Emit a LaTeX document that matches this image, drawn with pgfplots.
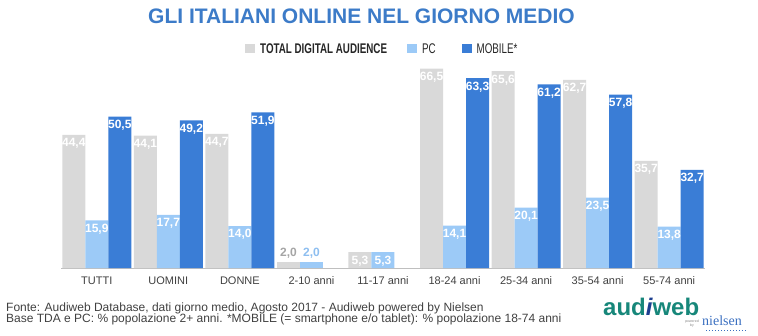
\documentclass[border=0pt]{standalone}
\usepackage{pgfplots}
\pgfplotsset{compat=1.18}
\usepackage{fontspec}
\setmainfont{Liberation Sans}
\newfontfamily\narrowfont[FakeStretch=0.7]{Liberation Sans}
\newfontfamily\seriffont{Liberation Serif}
\definecolor{tdagray}{HTML}{D9D9D9}
\definecolor{pcblue}{HTML}{9CCAF7}
\definecolor{mobblue}{HTML}{3A7DD6}
\definecolor{titleblue}{HTML}{3C7BC8}
\definecolor{axisgray}{HTML}{BFBFBF}
\definecolor{tickc}{HTML}{404040}
\definecolor{legtext}{HTML}{262626}
\definecolor{smallgray}{HTML}{A5A5A5}
\definecolor{smallblue}{HTML}{8DBEF0}
\definecolor{footc}{HTML}{404040}
\definecolor{logoteal}{HTML}{17877A}
\definecolor{logoblue}{HTML}{1D3F8F}
\definecolor{nielblue}{HTML}{3A6FC0}
\newcommand{\vfont}{\bfseries\fontsize{12}{14}\selectfont}
\begin{document}
\begin{tikzpicture}[x=1pt,y=1pt]
\useasboundingbox (0,0) rectangle (758,335);
\begin{axis}[
  at={(61pt,67pt)}, anchor=south west,
  scale only axis, width=644pt, height=210pt,
  xmin=-0.5, xmax=8.5, ymin=0, ymax=70,
  axis x line*=bottom, axis y line=none,
  x axis line style={draw=axisgray, line width=0.8pt},
  xtick={0,...,8},
  xticklabels={TUTTI,UOMINI,DONNE,2-10 anni,11-17 anni,18-24 anni,25-34 anni,35-54 anni,55-74 anni},
  major tick length=0pt,
  xticklabel style={font=\fontsize{11}{13}\selectfont, text=tickc, anchor=base, yshift=-16.5pt},
  ytick=\empty,
  clip=false,
  /pgf/number format/.cd, fixed, fixed zerofill, precision=1, use comma, assume math mode=true,
  /pgfplots/.cd,
  legend style={at={(axis description cs:0.2857,1.043)}, anchor=west, draw=none, fill=none,
    inner sep=0pt, font=\narrowfont\fontsize{14}{16}\selectfont, text=legtext,
    /tikz/every odd column/.append style={column sep=3pt},
    /tikz/every even column/.append style={column sep=18pt}},
  legend columns=3,
  legend image code/.code={\fill[#1] (0pt,-4.5pt) rectangle (10pt,4.5pt);},
]
\addplot[ybar, bar width=23pt, bar shift=-23pt, fill=tdagray, draw=none,
  nodes near coords, nodes near coords style={anchor=north, xshift=-23pt, text=white, font=\vfont}]
  coordinates {(0,44.4) (1,44.1) (2,44.7) (4,5.3) (5,66.5) (6,65.6) (7,62.7) (8,35.7)};
\addlegendentry{\bfseries TOTAL DIGITAL AUDIENCE}
\addplot[ybar, bar width=23pt, bar shift=0pt, fill=pcblue, draw=none,
  nodes near coords, nodes near coords style={anchor=north, text=white, font=\vfont}]
  coordinates {(0,15.9) (1,17.7) (2,14.0) (4,5.3) (5,14.1) (6,20.1) (7,23.5) (8,13.8)};
\addlegendentry{PC\hspace*{6pt}}
\addplot[ybar, bar width=23pt, bar shift=23pt, fill=mobblue, draw=none,
  nodes near coords, nodes near coords style={anchor=north, xshift=23pt, text=white, font=\vfont}]
  coordinates {(0,50.5) (1,49.2) (2,51.9) (5,63.3) (6,61.2) (7,57.8) (8,32.7)};
\addlegendentry{MOBILE*}
\addplot[ybar, bar width=23pt, bar shift=-23pt, fill=tdagray, draw=none, forget plot,
  nodes near coords, nodes near coords style={anchor=south, xshift=-23pt, text=smallgray, font=\vfont}]
  coordinates {(3,2.0)};
\addplot[ybar, bar width=23pt, bar shift=0pt, fill=pcblue, draw=none, forget plot,
  nodes near coords, nodes near coords style={anchor=south, text=smallblue, font=\vfont}]
  coordinates {(3,2.0)};
\end{axis}
\node[anchor=base, inner sep=0pt, font=\bfseries\fontsize{21}{25}\selectfont, text=titleblue] at (361.5,311) {GLI ITALIANI ONLINE NEL GIORNO MEDIO};
\node[anchor=base west, inner sep=0pt, font=\fontsize{12}{14}\selectfont, text=footc] at (6,24) {Fonte: Audiweb Database, dati giorno medio, Agosto 2017 - Audiweb powered by Nielsen};
\node[anchor=base west, inner sep=0pt, font=\fontsize{12}{14}\selectfont, text=footc] at (6,13) {Base TDA e PC: \% popolazione 2+ anni. *MOBILE (= smartphone e/o tablet): \% popolazione 18-74 anni};
\node[anchor=base west, inner sep=0pt, font=\bfseries\fontsize{24}{24}\selectfont, text=logoteal] at (603,20) {aud{\color{logoblue}\itshape i}web};
\node[anchor=base west, inner sep=0pt, font=\seriffont\fontsize{14}{14}\selectfont, text=nielblue] at (702,10) {nielsen};
\node[inner sep=0pt, font=\fontsize{3.5}{4}\selectfont, text=gray, align=center] at (692,11) {powered\\by};
\draw[nielblue, dotted, line width=1pt] (706,5) -- (746,5);
\end{tikzpicture}
\end{document}
